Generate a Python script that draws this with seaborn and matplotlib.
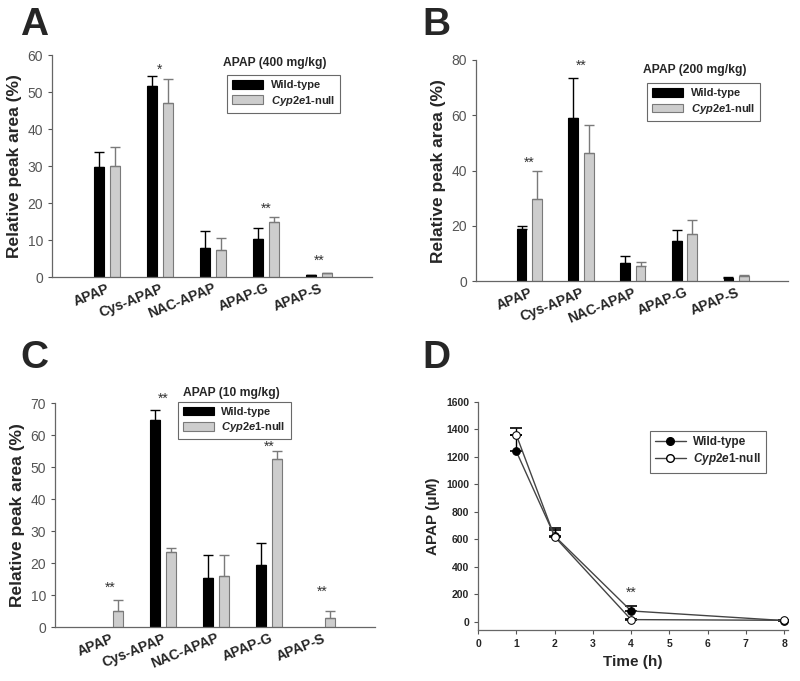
import numpy as np
import pandas as pd
import matplotlib
matplotlib.use("Agg")
import matplotlib.pyplot as plt
import seaborn as sns

# data
metabolites = ["APAP", "Cys-APAP", "NAC-APAP", "APAP-G", "APAP-S"]
groups = ["Wild-type", "Cyp2e1-null"]

# panel A, APAP 400 mg/kg
a_wt = [29.8, 51.6, 8.0, 10.3, 0.5]
a_wt_err = [3.9, 2.9, 4.4, 3.0, 0.1]
a_null = [30.0, 47.0, 7.4, 14.8, 1.0]
a_null_err = [5.1, 6.5, 3.2, 1.5, 0.2]
a_stars = ["", "*", "", "**", "**"]
a_star_y = [0, 56, 0, 18.5, 4.5]

# panel B, APAP 200 mg/kg
b_wt = [18.9, 58.9, 6.6, 14.6, 1.3]
b_wt_err = [1.1, 14.4, 2.4, 4.1, 0.4]
b_null = [29.6, 46.4, 5.5, 17.1, 1.8]
b_null_err = [10.1, 10.1, 1.6, 5.0, 0.4]
b_stars = ["**", "**", "", "", ""]
b_star_y = [43, 78, 0, 0, 0]

# panel C, APAP 10 mg/kg
c_wt = [0, 64.8, 15.5, 19.5, 0]
c_wt_err = [0, 3.0, 7.2, 6.8, 0]
c_null = [5.0, 23.4, 15.9, 52.7, 3.0]
c_null_err = [3.4, 1.5, 6.8, 2.4, 2.0]
c_stars = ["**", "**", "", "**", "**"]
c_star_y = [12.2, 71.5, 0, 56.5, 11]

# panel D, serum APAP time course
time_h = [1, 2, 4, 8]
d_wt = [1240, 625, 80, 10]
d_wt_err = [120, 61, 37, 5]
d_null = [1360, 620, 17, 12]
d_null_err = [50, 49, 5, 5]
d_star_x = 4
d_star_y = 215

sns.set_style("ticks")
plt.rcParams["font.family"] = ["Liberation Sans", "DejaVu Sans"]
plt.rcParams["mathtext.fontset"] = "custom"
plt.rcParams["mathtext.it"] = "Liberation Sans:italic:bold"
plt.rcParams["mathtext.rm"] = "Liberation Sans:bold"

null_label = r"$\mathit{Cyp2e1}$-null"
wt_color = "black"
null_color = "#cdcdcd"
null_edge = "#7a7a7a"


def bar_panel(ax, wt, wt_err, null, null_err, stars, star_y, ymax, ystep, title, title_xy, leg_xy):
    df = pd.DataFrame({
        "metabolite": metabolites * 2,
        "group": [groups[0]] * 5 + [groups[1]] * 5,
        "value": wt + null,
    })
    sns.barplot(data=df, x="metabolite", y="value", hue="group", order=metabolites,
                hue_order=groups, palette=[wt_color, null_color], errorbar=None,
                width=0.6, gap=0.37, ax=ax, legend=False, saturation=1)
    bar_sets = list(ax.containers)[:2]
    for i, cont in enumerate(bar_sets):
        errs = wt_err if i == 0 else null_err
        ec = "black" if i == 0 else null_edge
        for bar, e in zip(list(cont), errs):
            bar.set_edgecolor(ec)
            bar.set_linewidth(0.8)
            h = bar.get_height()
            if h == 0 and e == 0:
                bar.set_visible(False)
                continue
            xc = bar.get_x() + bar.get_width() / 2
            ax.errorbar(xc, h, yerr=[[0], [e]], fmt="none", ecolor=ec,
                        elinewidth=1, capsize=3.5, capthick=1)
    for i, s in enumerate(stars):
        if s:
            ax.text(i, star_y[i], s, ha="center", va="center", fontsize=10, color="#333333",
                    clip_on=False)
    ax.set_xlim(-1.03, 5.0)
    ax.set_ylim(0, ymax)
    ax.set_yticks(np.arange(0, ymax + 1, ystep))
    ax.set_xlabel("")
    ax.set_ylabel("Relative peak area (%)", fontsize=12.5, fontweight="bold")
    ax.tick_params(axis="x", length=0, pad=3)
    ax.tick_params(axis="y", length=3, width=0.8, labelsize=10, labelcolor="#555555", color="#555555")
    for lbl in ax.get_xticklabels():
        lbl.set_rotation(22)
        lbl.set_ha("right")
        lbl.set_rotation_mode("anchor")
        lbl.set_fontweight("bold")
        lbl.set_fontsize(10)
    sns.despine(ax=ax)
    for sp in ["left", "bottom"]:
        ax.spines[sp].set_color("#666666")
        ax.spines[sp].set_linewidth(0.9)
    ax.text(title_xy[0], title_xy[1], title, transform=ax.transAxes, fontsize=8.7,
            fontweight="bold", ha="left", va="center")
    handles = [plt.Rectangle((0, 0), 1, 1, fc=wt_color, ec="black", lw=0.8),
               plt.Rectangle((0, 0), 1, 1, fc=null_color, ec=null_edge, lw=0.8)]
    leg = ax.legend(handles, ["Wild-type", null_label], loc="upper left",
                    bbox_to_anchor=leg_xy, frameon=True, fancybox=False,
                    edgecolor="#444444", fontsize=8, handlelength=2.8, handleheight=0.8,
                    borderpad=0.45, labelspacing=0.3, handletextpad=0.7)
    leg.get_frame().set_linewidth(0.8)
    for t in leg.get_texts():
        t.set_fontweight("bold")


fig = plt.figure(figsize=(8, 6.81), dpi=100)
ax_a = fig.add_axes([0.065, 0.593, 0.40, 0.326])
ax_b = fig.add_axes([0.595, 0.587, 0.39, 0.325])
ax_c = fig.add_axes([0.069, 0.079, 0.40, 0.329])
ax_d = fig.add_axes([0.5975, 0.075, 0.3875, 0.335])

bar_panel(ax_a, a_wt, a_wt_err, a_null, a_null_err, a_stars, a_star_y, 60, 10,
          "APAP (400 mg/kg)", (0.535, 0.965), (0.53, 0.935))
bar_panel(ax_b, b_wt, b_wt_err, b_null, b_null_err, b_stars, b_star_y, 80, 20,
          "APAP (200 mg/kg)", (0.535, 0.955), (0.53, 0.92))
bar_panel(ax_c, c_wt, c_wt_err, c_null, c_null_err, c_stars, c_star_y, 70, 10,
          "APAP (10 mg/kg)", (0.40, 1.045), (0.365, 1.03))

# panel D
sns.lineplot(x=time_h, y=d_wt, ax=ax_d, color="#444444", lw=1, marker="o",
             markersize=5.5, markerfacecolor="black", markeredgecolor="black", zorder=3)
sns.lineplot(x=time_h, y=d_null, ax=ax_d, color="#444444", lw=1, marker="o",
             markersize=5.5, markerfacecolor="white", markeredgecolor="black", zorder=3)
ax_d.errorbar(time_h, d_wt, yerr=[np.zeros(4), d_wt_err], fmt="none", ecolor="black",
              elinewidth=1, capsize=4, capthick=1.2, zorder=2)
ax_d.errorbar(time_h, d_null, yerr=[np.zeros(4), d_null_err], fmt="none", ecolor="black",
              elinewidth=1, capsize=4, capthick=1.2, zorder=2)
ax_d.text(d_star_x, d_star_y, "**", ha="center", va="center", fontsize=10, color="#333333")
ax_d.set_xlim(0, 8.1)
ax_d.set_ylim(-58, 1600)
ax_d.set_xticks(range(0, 9))
ax_d.set_yticks(range(0, 1601, 200))
ax_d.set_xlabel("Time (h)", fontsize=11, fontweight="bold")
ax_d.set_ylabel("APAP (\u03bcM)", fontsize=11, fontweight="bold")
ax_d.tick_params(length=3, width=0.8, labelsize=7.5, color="#555555")
for lbl in ax_d.get_xticklabels() + ax_d.get_yticklabels():
    lbl.set_fontweight("bold")
sns.despine(ax=ax_d)
for sp in ["left", "bottom"]:
    ax_d.spines[sp].set_color("#666666")
    ax_d.spines[sp].set_linewidth(0.9)
d_handles = [plt.Line2D([], [], color="#444444", lw=1, marker="o", markersize=5.5,
                        markerfacecolor="black", markeredgecolor="black"),
             plt.Line2D([], [], color="#444444", lw=1, marker="o", markersize=5.5,
                        markerfacecolor="white", markeredgecolor="black")]
leg = ax_d.legend(d_handles, ["Wild-type", null_label], loc="upper left",
                  bbox_to_anchor=(0.535, 0.9), frameon=True, fancybox=False,
                  edgecolor="#444444", fontsize=8.5, handlelength=2.6, borderpad=0.45,
                  labelspacing=0.3, handletextpad=0.6)
leg.get_frame().set_linewidth(0.8)
for t in leg.get_texts():
    t.set_fontweight("bold")

# panel letters
for letter, (x, y) in zip("ABCD", [(0.025, 0.99), (0.528, 0.99), (0.025, 0.5), (0.528, 0.5)]):
    fig.text(x, y, letter, fontsize=28, fontweight="bold", ha="left", va="top")

fig.savefig("out.png", dpi=100)
